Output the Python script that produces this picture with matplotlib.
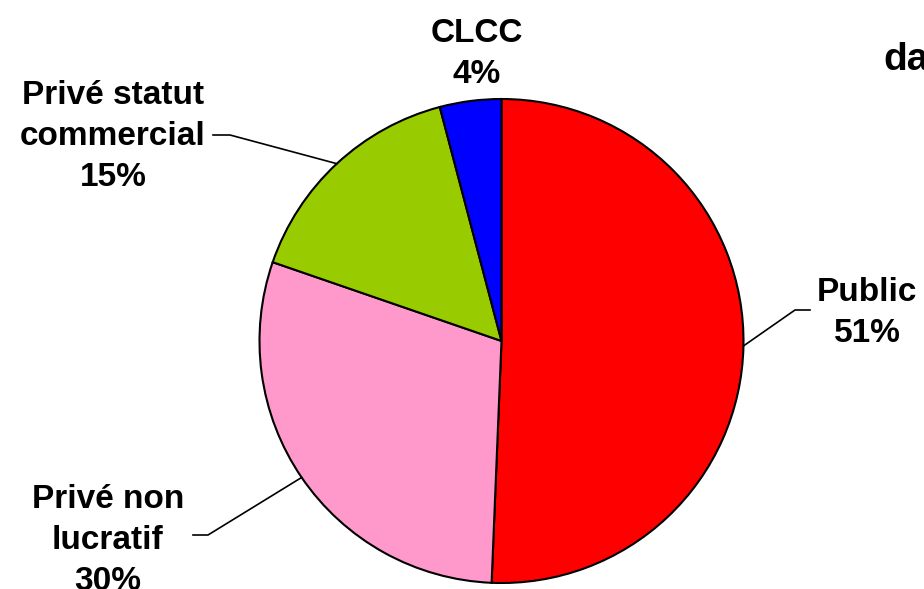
import numpy as np
import matplotlib
matplotlib.use("Agg")
import matplotlib.pyplot as plt
from matplotlib.lines import Line2D

# data (clockwise from 12 o'clock)
labels = ["Public", "Privé non\nlucratif", "Privé statut\ncommercial", "CLCC"]
values = [50.6, 29.6, 15.6, 4.1]
pct_labels = ["51%", "30%", "15%", "4%"]
colors = ["#FF0000", "#FF99CC", "#99CC00", "#0000FF"]

W, H = 924, 589
plt.rcParams['font.family'] = ['Liberation Sans', 'DejaVu Sans']

fig = plt.figure(figsize=(W / 100, H / 100), dpi=100)

# pie centre and radius in pixels of the reference
cx, cy, r = 501.5, 341, 242
ax = fig.add_axes([(cx - r) / W, 1 - (cy + r) / H, 2 * r / W, 2 * r / H])
wedges, _ = ax.pie(values, colors=colors, startangle=90, counterclock=False,
                   radius=1, wedgeprops=dict(edgecolor='black', linewidth=1.5))
ax.set_xlim(-1, 1)
ax.set_ylim(-1, 1)
ax.set_aspect('equal')
ax.axis('off')


def px(x, y):
    return x / W, 1 - y / H


# label blocks: (center x, top y) in pixels
text_pos = [(867, 277), (108, 484), (113, 80), (477, 18)]
# leader lines: (text end x, elbow x, y) or None
leaders = [(810, 795, 310), (193, 208, 535), (213, 230, 135), None]

for w, lab, pct, pos, ld in zip(wedges, labels, pct_labels, text_pos, leaders):
    fig.text(*px(*pos), lab + "\n" + pct, ha='center', va='top',
             multialignment='center', fontsize=24, fontweight='bold',
             linespacing=1.42)
    if ld is None:
        continue
    mid = np.deg2rad((w.theta1 + w.theta2) / 2)
    ex, ey = cx + r * np.cos(mid), cy - r * np.sin(mid)
    xs = [ld[0], ld[1], ex]
    ys = [ld[2], ld[2], ey]
    fig.add_artist(Line2D([x / W for x in xs], [1 - y / H for y in ys],
                          color='black', linewidth=1.2))

# title, cut by the right edge of the picture
fig.text(*px(883, 70), "da", ha='left', va='baseline', fontsize=28,
         fontweight='bold')

fig.savefig("out.png", dpi=100)
